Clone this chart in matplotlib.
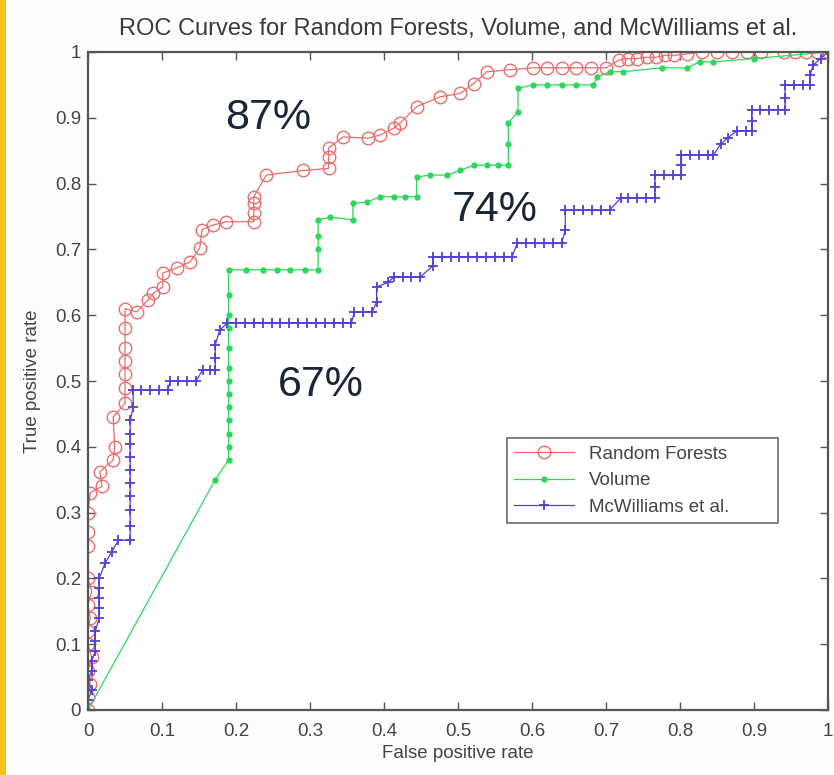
import numpy as np
import matplotlib
matplotlib.use("Agg")
import matplotlib.pyplot as plt
from matplotlib.patches import Rectangle

# ---- data: (false positive rate, true positive rate) ----
rf_points = [
    (0.0, 0.0), (0.0, 0.02), (0.003, 0.04), (0.0, 0.06), (0.005, 0.08), (0.0, 0.1), (0.0, 0.12),
    (0.003, 0.14), (0.0, 0.16), (0.005, 0.18), (0.0, 0.2), (0.0, 0.25), (0.0, 0.27), (0.0, 0.3),
    (0.003, 0.33), (0.019, 0.34), (0.016, 0.362), (0.034, 0.38), (0.036, 0.4), (0.034, 0.445),
    (0.05, 0.466), (0.05, 0.49), (0.05, 0.51), (0.05, 0.53), (0.05, 0.55), (0.05, 0.58),
    (0.05, 0.61), (0.066, 0.605), (0.081, 0.623), (0.088, 0.633), (0.101, 0.643), (0.101, 0.664),
    (0.12, 0.672), (0.138, 0.681), (0.151, 0.702), (0.154, 0.73), (0.169, 0.737), (0.187, 0.742),
    (0.224, 0.742), (0.224, 0.755), (0.224, 0.77), (0.224, 0.78), (0.241, 0.813), (0.291, 0.82),
    (0.325, 0.823), (0.325, 0.84), (0.325, 0.854), (0.345, 0.871), (0.379, 0.869), (0.395, 0.874),
    (0.413, 0.884), (0.422, 0.892), (0.444, 0.917), (0.476, 0.932), (0.503, 0.937),
    (0.521, 0.952), (0.539, 0.97), (0.57, 0.973), (0.602, 0.976), (0.62, 0.976), (0.64, 0.976),
    (0.66, 0.976), (0.68, 0.976), (0.70, 0.976), (0.718, 0.988), (0.73, 0.99), (0.742, 0.99),
    (0.755, 0.992), (0.768, 0.992), (0.78, 0.995), (0.792, 0.995), (0.81, 0.997), (0.83, 1.0),
    (0.85, 1.0), (0.87, 1.0), (0.89, 1.0), (0.91, 1.0), (0.94, 1.0), (0.955, 1.0), (0.97, 1.0),
    (0.985, 1.0), (1.0, 1.0),
]

vol_points = [
    (0.0, 0.0), (0.172, 0.35), (0.19, 0.38), (0.19, 0.40), (0.19, 0.42), (0.19, 0.44),
    (0.19, 0.46), (0.19, 0.48), (0.19, 0.50), (0.19, 0.52), (0.19, 0.55), (0.19, 0.58),
    (0.19, 0.60), (0.19, 0.63), (0.19, 0.669), (0.214, 0.669), (0.237, 0.669), (0.255, 0.669),
    (0.273, 0.669), (0.293, 0.669), (0.311, 0.669), (0.311, 0.70), (0.311, 0.72), (0.311, 0.745),
    (0.327, 0.749), (0.358, 0.745), (0.358, 0.77), (0.377, 0.772), (0.395, 0.78), (0.413, 0.78),
    (0.429, 0.78), (0.444, 0.78), (0.444, 0.81), (0.462, 0.813), (0.485, 0.813), (0.503, 0.82),
    (0.521, 0.828), (0.539, 0.828), (0.554, 0.828), (0.568, 0.828), (0.568, 0.86),
    (0.568, 0.892), (0.581, 0.909), (0.581, 0.945), (0.602, 0.95), (0.62, 0.95), (0.64, 0.95),
    (0.66, 0.95), (0.683, 0.95), (0.688, 0.962), (0.705, 0.97), (0.723, 0.97), (0.776, 0.976),
    (0.809, 0.976), (0.827, 0.985), (0.845, 0.985), (0.9, 0.99), (1.0, 1.0),
]

mcw_points = [
    (0.0, 0.0), (0.0, 0.015), (0.005, 0.03), (0.0, 0.045), (0.005, 0.06), (0.005, 0.075),
    (0.01, 0.09), (0.01, 0.105), (0.01, 0.12), (0.015, 0.14), (0.015, 0.155), (0.015, 0.17),
    (0.015, 0.185), (0.015, 0.2), (0.023, 0.223), (0.032, 0.24), (0.041, 0.258),
    (0.057, 0.258), (0.057, 0.28), (0.057, 0.304), (0.057, 0.325), (0.057, 0.345),
    (0.057, 0.365), (0.057, 0.385), (0.057, 0.405), (0.057, 0.42), (0.057, 0.44),
    (0.061, 0.46), (0.061, 0.486), (0.072, 0.486), (0.084, 0.486), (0.096, 0.486),
    (0.108, 0.486), (0.111, 0.5), (0.122, 0.5), (0.134, 0.5), (0.146, 0.5), (0.155, 0.517),
    (0.165, 0.517), (0.172, 0.517), (0.172, 0.535), (0.172, 0.555), (0.178, 0.577),
    (0.188, 0.588), (0.2, 0.588), (0.212, 0.588), (0.224, 0.588), (0.236, 0.588),
    (0.248, 0.588), (0.26, 0.588), (0.272, 0.588), (0.284, 0.588), (0.296, 0.588),
    (0.308, 0.588), (0.32, 0.588), (0.332, 0.588), (0.344, 0.588), (0.356, 0.588),
    (0.36, 0.605), (0.372, 0.605), (0.384, 0.605), (0.39, 0.62), (0.39, 0.643), (0.406, 0.65),
    (0.413, 0.658), (0.425, 0.658), (0.437, 0.658), (0.449, 0.658), (0.466, 0.675),
    (0.466, 0.689), (0.478, 0.689), (0.49, 0.689), (0.502, 0.689), (0.514, 0.689),
    (0.526, 0.689), (0.538, 0.689), (0.55, 0.689), (0.562, 0.689), (0.573, 0.689),
    (0.58, 0.709), (0.592, 0.709), (0.604, 0.709), (0.616, 0.709), (0.628, 0.709),
    (0.64, 0.709), (0.645, 0.73), (0.645, 0.76), (0.657, 0.76), (0.669, 0.76), (0.681, 0.76),
    (0.693, 0.76), (0.705, 0.76), (0.72, 0.778), (0.73, 0.778), (0.742, 0.778), (0.754, 0.778),
    (0.766, 0.778), (0.766, 0.795), (0.766, 0.813), (0.778, 0.813), (0.79, 0.813),
    (0.802, 0.813), (0.802, 0.828), (0.802, 0.843), (0.814, 0.843), (0.826, 0.843),
    (0.838, 0.843), (0.845, 0.843), (0.855, 0.86), (0.865, 0.87), (0.877, 0.88), (0.889, 0.88),
    (0.897, 0.88), (0.897, 0.895), (0.897, 0.912), (0.908, 0.912), (0.92, 0.912),
    (0.932, 0.912), (0.942, 0.912), (0.942, 0.93), (0.942, 0.95), (0.954, 0.95), (0.966, 0.95),
    (0.976, 0.95), (0.976, 0.965), (0.98, 0.98), (0.99, 0.99), (1.0, 1.0),
]

series_names = ["Random Forests", "Volume", "McWilliams et al."]
auc_labels = ["87%", "74%", "67%"]
auc_pos = [(0.243, 0.90), (0.549, 0.76), (0.314, 0.494)]
tick_vals = [0, 0.1, 0.2, 0.3, 0.4, 0.5, 0.6, 0.7, 0.8, 0.9, 1]
tick_text = ["0", "0.1", "0.2", "0.3", "0.4", "0.5", "0.6", "0.7", "0.8", "0.9", "1"]

rf = np.array(rf_points)
vol = np.array(vol_points)
mcw = np.array(mcw_points)

plt.rcParams["font.family"] = ["Liberation Sans", "DejaVu Sans"]
plt.rcParams["xtick.direction"] = "in"
plt.rcParams["ytick.direction"] = "in"

fig = plt.figure(figsize=(8.34, 7.75), dpi=100)
fig.patch.set_facecolor("#fdfdfd")
# yellow strip on the left edge
fig.patches.append(Rectangle((0, 0), 6 / 834, 1, transform=fig.transFigure,
                             facecolor="#f5bf1c", edgecolor="none"))

ax = fig.add_axes([88 / 834, 65 / 775, 740 / 834, 658 / 775])

ax.plot(rf[:, 0], rf[:, 1], color="#ec6c6c", linewidth=0.9, marker="o",
        markersize=9, markerfacecolor="none", markeredgewidth=1.0,
        label=series_names[0])
ax.plot(vol[:, 0], vol[:, 1], color="#2bd85a", linewidth=0.9, marker=".",
        markersize=7, label=series_names[1])
ax.plot(mcw[:, 0], mcw[:, 1], color="#5040d8", linewidth=0.9, marker="+",
        markersize=6.5, markeredgewidth=1.3, label=series_names[2])

for txt, (x, y) in zip(auc_labels, auc_pos):
    ax.text(x, y, txt, fontsize=31, color="#1b2538", ha="center", va="center")

ax.set_xlim(0, 1)
ax.set_ylim(0, 1)
ax.set_xticks(tick_vals)
ax.set_yticks(tick_vals)
ax.set_xticklabels(tick_text)
ax.set_yticklabels(tick_text)
ax.tick_params(axis="both", which="major", labelsize=13.5, length=6, width=1.0,
               color="#555555", labelcolor="#444444", top=True, right=True)
ax.tick_params(axis="x", pad=9)
ax.tick_params(axis="y", pad=5)
for sp in ax.spines.values():
    sp.set_linewidth(1.6)
    sp.set_color("#555555")

ax.set_title("ROC Curves for Random Forests, Volume, and McWilliams et al.",
             fontsize=17, color="#3a3a3a", pad=12)
ax.set_xlabel("False positive rate", fontsize=13.5, color="#444444", labelpad=4)
ax.set_ylabel("True positive rate", fontsize=13.5, color="#444444", labelpad=10)

leg = ax.legend(loc="lower left", bbox_to_anchor=(0.566, 0.284, 0.366, 0.181),
                mode="expand", fontsize=13.5, frameon=True, fancybox=False,
                handlelength=3.2, borderaxespad=0, labelcolor="#444444")
leg.get_frame().set_edgecolor("#444444")
leg.get_frame().set_linewidth(1.2)

plt.savefig("out.png", dpi=100, facecolor=fig.get_facecolor())
